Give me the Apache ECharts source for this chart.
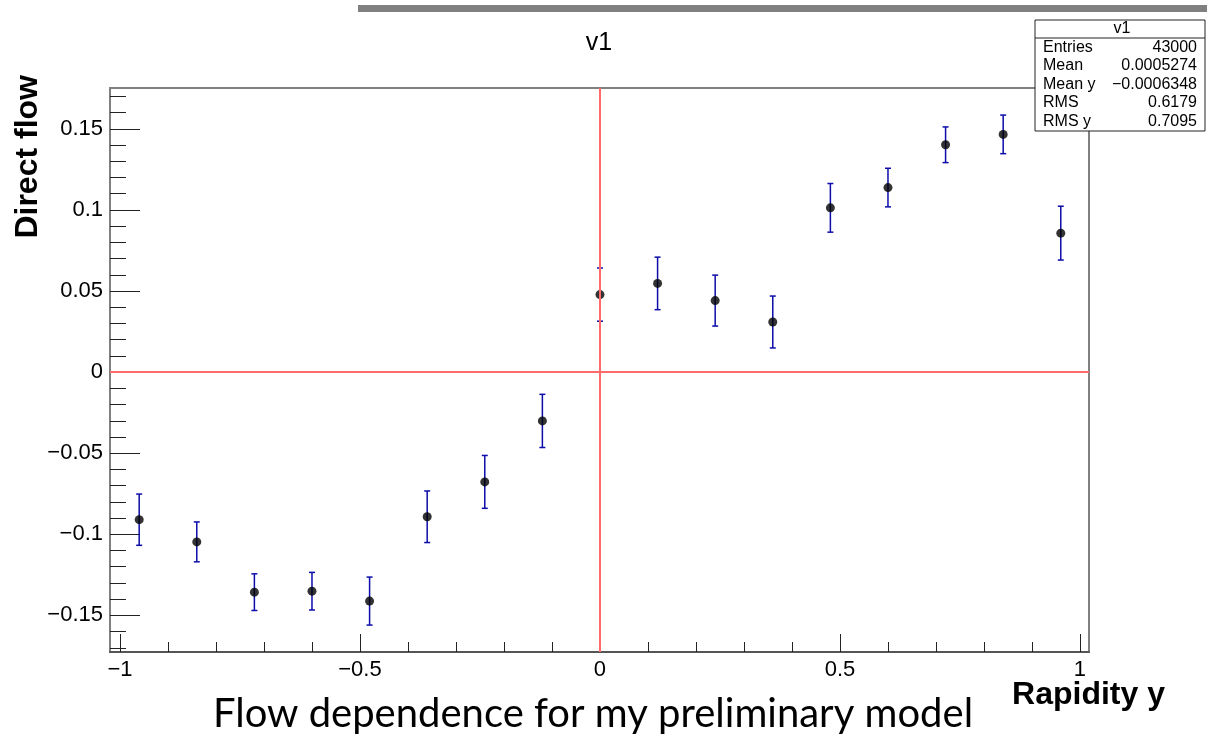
<!DOCTYPE html>
<html>
<head>
<meta charset="utf-8">
<script src="https://cdn.jsdelivr.net/npm/echarts@6/dist/echarts.min.js"></script>
<style>
html,body{margin:0;padding:0;background:#fff;}
#chart{width:1207px;height:735px;}
</style>
</head>
<body>
<div id="chart"></div>
<script>
// ---- data ----
const xValues = [-0.96, -0.84, -0.72, -0.60, -0.48, -0.36, -0.24, -0.12, 0.00, 0.12, 0.24, 0.36, 0.48, 0.60, 0.72, 0.84, 0.96];
const yValues = [-0.0910, -0.1047, -0.1357, -0.1351, -0.1412, -0.0892, -0.0677, -0.0301, 0.0478, 0.0547, 0.0441, 0.0309, 0.1013, 0.1138, 0.1402, 0.1466, 0.0857];
const yErrors = [0.0158, 0.0123, 0.0113, 0.0116, 0.0148, 0.0159, 0.0163, 0.0164, 0.0164, 0.0162, 0.0157, 0.0160, 0.0150, 0.0119, 0.0110, 0.0119, 0.0166];
const xMajorTicks = [-1, -0.5, 0, 0.5, 1];
const xMinorTicks = [-0.9, -0.8, -0.7, -0.6, -0.4, -0.3, -0.2, -0.1, 0.1, 0.2, 0.3, 0.4, 0.6, 0.7, 0.8, 0.9];
const yMajorTicks = [-0.15, -0.1, -0.05, 0, 0.05, 0.1, 0.15];
const yMinorTicks = [-0.17, -0.16, -0.14, -0.13, -0.12, -0.11, -0.09, -0.08, -0.07, -0.06, -0.04, -0.03, -0.02, -0.01,
                     0.01, 0.02, 0.03, 0.04, 0.06, 0.07, 0.08, 0.09, 0.11, 0.12, 0.13, 0.14, 0.16, 0.17];
const xRange = [-1.0208, 1.0188];
const yRange = [-0.1726, 0.1752];
const chartTitle = 'v1';
const xAxisTitle = 'Rapidity y';
const yAxisTitle = 'Direct flow';
const caption = 'Flow dependence for my preliminary model';
const statsTitle = 'v1';
const statsLabels = ['Entries', 'Mean', 'Mean y', 'RMS', 'RMS y'];
const statsValues = ['43000', '0.0005274', '\u22120.0006348', '0.6179', '0.7095'];

// ---- chart ----
const fmt = v => {
  const r = Math.round(v * 1000) / 1000;
  return (r < 0 ? '\u2212' : '') + String(Math.abs(r));
};
const labelFont = {fontFamily: 'Liberation Sans', fontSize: 22, color: '#000'};

const pointData = xValues.map((x, i) => [x, yValues[i]]);
const errData = xValues.map((x, i) => [x, yValues[i] - yErrors[i], yValues[i] + yErrors[i]]);

const chart = echarts.init(document.getElementById('chart'), null, {renderer: 'canvas'});

const statsGraphics = [];
const bx = 1035, by = 20, bw = 170, bh = 111;
statsGraphics.push({type: 'rect', shape: {x: bx, y: by, width: bw, height: bh}, style: {fill: '#fff', stroke: '#222', lineWidth: 1}, z: 100});
statsGraphics.push({type: 'line', shape: {x1: bx, y1: 38, x2: bx + bw, y2: 38}, style: {stroke: '#222', lineWidth: 1}, z: 101});
statsGraphics.push({type: 'text', x: bx + bw / 2 + 2, y: 29, style: {text: statsTitle, fontFamily: 'Liberation Sans', fontSize: 16, fill: '#000', align: 'center', verticalAlign: 'middle'}, z: 102});
statsLabels.forEach((lab, i) => {
  const yy = 47.5 + i * 18.5;
  statsGraphics.push({type: 'text', x: 1043, y: yy, style: {text: lab, fontFamily: 'Liberation Sans', fontSize: 16, fill: '#000', align: 'left', verticalAlign: 'middle'}, z: 102});
  statsGraphics.push({type: 'text', x: 1197, y: yy, style: {text: statsValues[i], fontFamily: 'Liberation Sans', fontSize: 16, fill: '#000', align: 'right', verticalAlign: 'middle'}, z: 102});
});

const option = {
  animation: false,
  backgroundColor: '#fff',
  grid: {left: 110, top: 88, width: 979, height: 564, show: true, borderColor: '#808080', borderWidth: 2, backgroundColor: 'transparent'},
  xAxis: [
    {
      type: 'value', min: xRange[0], max: xRange[1], position: 'bottom',
      axisLine: {show: true, onZero: false, lineStyle: {color: '#555', width: 2}},
      axisTick: {show: true, inside: true, length: 18, customValues: xMajorTicks, lineStyle: {color: '#222', width: 1}},
      axisLabel: {show: true, customValues: xMajorTicks, formatter: fmt, margin: 7, ...labelFont},
      splitLine: {show: false}
    },
    {
      type: 'value', min: xRange[0], max: xRange[1], position: 'bottom',
      axisLine: {show: false, onZero: false},
      axisTick: {show: true, inside: true, length: 10, customValues: xMinorTicks, lineStyle: {color: '#222', width: 1}},
      axisLabel: {show: false},
      splitLine: {show: false}
    }
  ],
  yAxis: [
    {
      type: 'value', min: yRange[0], max: yRange[1], position: 'left',
      axisLine: {show: true, onZero: false, lineStyle: {color: '#808080', width: 2}},
      axisTick: {show: true, inside: true, length: 30, customValues: yMajorTicks, lineStyle: {color: '#222', width: 1}},
      axisLabel: {show: true, customValues: yMajorTicks, formatter: fmt, margin: 7, ...labelFont},
      splitLine: {show: false}
    },
    {
      type: 'value', min: yRange[0], max: yRange[1], position: 'left',
      axisLine: {show: false, onZero: false},
      axisTick: {show: true, inside: true, length: 16, customValues: yMinorTicks, lineStyle: {color: '#222', width: 1}},
      axisLabel: {show: false},
      splitLine: {show: false}
    }
  ],
  series: [
    {
      type: 'custom', xAxisIndex: 0, yAxisIndex: 0, z: 2, clip: true,
      data: errData,
      renderItem: function (params, api) {
        const x = api.value(0);
        const lo = api.coord([x, api.value(1)]);
        const hi = api.coord([x, api.value(2)]);
        const cap = 3;
        const st = {stroke: '#0c0cab', lineWidth: 1.5};
        return {
          type: 'group',
          children: [
            {type: 'line', shape: {x1: lo[0], y1: lo[1], x2: hi[0], y2: hi[1]}, style: st},
            {type: 'line', shape: {x1: lo[0] - cap, y1: lo[1], x2: lo[0] + cap, y2: lo[1]}, style: st},
            {type: 'line', shape: {x1: hi[0] - cap, y1: hi[1], x2: hi[0] + cap, y2: hi[1]}, style: st}
          ]
        };
      }
    },
    {
      type: 'scatter', xAxisIndex: 0, yAxisIndex: 0, z: 3,
      symbol: 'circle', symbolSize: 9,
      itemStyle: {color: '#000'},
      data: pointData
    },
    {
      type: 'line', xAxisIndex: 0, yAxisIndex: 0, z: 10, data: [],
      markLine: {
        silent: true, symbol: ['none', 'none'], label: {show: false}, animation: false,
        lineStyle: {color: '#ff6a6a', width: 2, type: 'solid'},
        emphasis: {disabled: true},
        data: [{xAxis: 0}, {yAxis: 0}]
      }
    }
  ],
  graphic: [
    {type: 'rect', shape: {x: 358, y: 5, width: 849, height: 7}, style: {fill: '#808080'}, z: 50},
    {type: 'text', x: 599, y: 43, style: {text: chartTitle, fontFamily: 'Liberation Sans', fontSize: 25, fill: '#000', align: 'center', verticalAlign: 'middle'}, z: 50},
    {type: 'text', x: 1165, y: 695, style: {text: xAxisTitle, fontFamily: 'Liberation Sans', fontWeight: 'bold', fontSize: 32, fill: '#000', align: 'right', verticalAlign: 'middle'}, z: 50},
    {type: 'text', x: 28, y: 75, rotation: Math.PI / 2, style: {text: yAxisTitle, fontFamily: 'Liberation Sans', fontWeight: 'bold', fontSize: 32, fill: '#000', align: 'right', verticalAlign: 'middle'}, z: 50},
    {type: 'text', x: 593, y: 714, style: {text: caption, fontFamily: 'Lato', fontSize: 40, fill: '#000', align: 'center', verticalAlign: 'middle'}, z: 50},
    ...statsGraphics
  ]
};
chart.setOption(option);
</script>
</body>
</html>
